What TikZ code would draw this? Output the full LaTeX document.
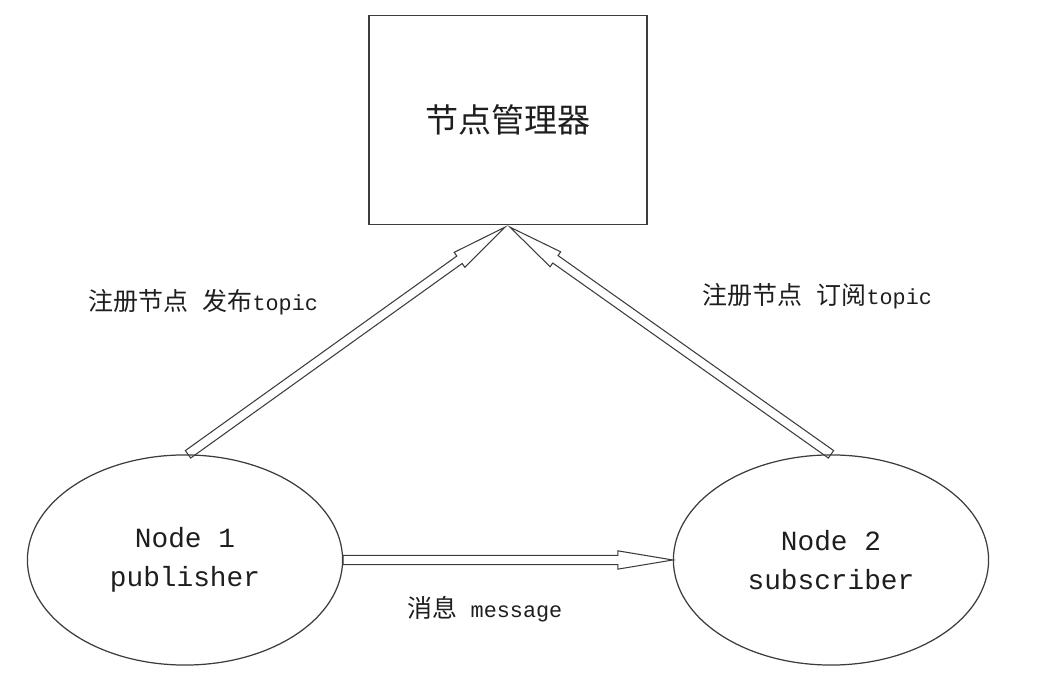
\documentclass[tikz,border=0pt]{standalone}
\usepackage{fontspec}
\setmainfont{Liberation Mono}
\newfontfamily\cjk{Noto Sans CJK SC}
\usetikzlibrary{positioning,calc,shapes.geometric}
\definecolor{ink}{HTML}{1E1E1E}
\definecolor{edge}{HTML}{3C3C3C}
\newcommand\zh[1]{{\cjk\fontsize{7.1}{8}\selectfont #1}}
\tikzset{
  mgrbox/.style  = {draw=edge, line width=0.35pt, minimum width=2.78cm,
                    minimum height=2.09cm, inner sep=0pt, text=ink},
  nodeell/.style = {ellipse, draw=edge, line width=0.35pt, minimum width=3.15cm,
                    minimum height=2.1cm, inner sep=0pt, align=center, text=ink,
                    font=\fontsize{7.9}{11.2}\selectfont},
  lbl/.style     = {anchor=west, inner sep=0pt, text=ink,
                    font=\fontsize{6.2}{7}\selectfont},
  % hollow block arrow: shaft half width 1.3pt, head 15.6pt long, 2.6pt half width
  hollow/.style  = {draw=edge, line width=0.3pt, line join=miter, to path={
      let \p1=($(\tikztotarget)-(\tikztostart)$), \n1={atan2(\y1,\x1)},
          \n2={veclen(\x1,\y1)} in
      ([shift={(\tikztostart)},rotate=\n1]0pt,1.3pt)
      -- ([shift={(\tikztostart)},rotate=\n1]{\n2*1pt-15.6pt},1.3pt)
      -- ([shift={(\tikztostart)},rotate=\n1]{\n2*1pt-15.6pt},2.6pt)
      -- (\tikztotarget)
      -- ([shift={(\tikztostart)},rotate=\n1]{\n2*1pt-15.6pt},-2.6pt)
      -- ([shift={(\tikztostart)},rotate=\n1]{\n2*1pt-15.6pt},-1.3pt)
      -- ([shift={(\tikztostart)},rotate=\n1]0pt,-1.3pt) -- cycle}},
}
\begin{document}
\begin{tikzpicture}[x=0.01cm,y=-0.01cm]
  \useasboundingbox (0,0) rectangle (1045,674);
  \node[mgrbox] (mgr) at (508,120) {\cjk\fontsize{9.4}{11}\selectfont 节点管理器};
  \node[nodeell] (pub) at (185,560) {Node 1\\publisher};
  \node[nodeell] (sub) at (831,560) {Node 2\\subscriber};
  \coordinate (mgrin1) at ([xshift=-0.03cm,yshift=-0.02cm]mgr.south);
  \coordinate (mgrin2) at ([xshift=0.02cm,yshift=-0.02cm]mgr.south);
  % register arrows and message flow
  \draw[hollow] ([xshift=0.03cm]pub.north) to (mgrin1);
  \draw[hollow] (sub.north) to (mgrin2);
  \draw[hollow] (pub.east) to (sub.west);
  \node[lbl] (lblpub) at (88,302) {\zh{注册节点}\hspace{0.14cm}\zh{发布}topic};
  \node[lbl] (lblsub) at (702,296) {\zh{注册节点}\hspace{0.14cm}\zh{订阅}topic};
  \node[lbl] (lblmsg) at (407,609) {\zh{消息} message};
\end{tikzpicture}
\end{document}
